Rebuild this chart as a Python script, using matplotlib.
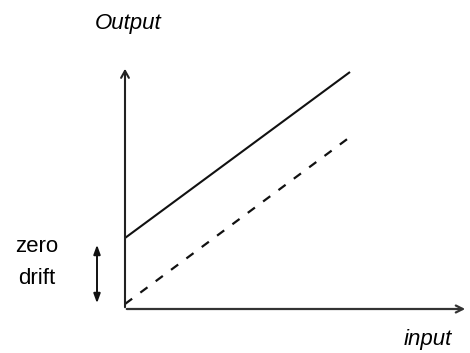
import matplotlib.pyplot as plt

# values (1 unit ~ 1 px, origin at the axes corner)
input_pts = [0, 225]
with_drift = [71, 237]
no_drift = [5, 172]
axis_x_end = 343
axis_y_end = 243
drift_range = [3, 67]

plt.rcParams['font.family'] = ['Liberation Sans', 'DejaVu Sans']

fig = plt.figure(figsize=(4.7, 3.53), dpi=100)
ax = fig.add_axes([125 / 470, 44 / 353, 345 / 470, 287 / 353])
ax.set_xlim(0, 345)
ax.set_ylim(0, 287)
ax.axis('off')

# axes with arrow heads
ax.annotate('', xy=(0, axis_y_end), xytext=(0, -1),
            arrowprops=dict(arrowstyle='->,head_length=0.5,head_width=0.28', lw=1.5, color='#222222'),
            annotation_clip=False)
ax.annotate('', xy=(axis_x_end, 0), xytext=(-1, 0),
            arrowprops=dict(arrowstyle='->,head_length=0.5,head_width=0.25', lw=1.6, color='#333333'),
            annotation_clip=False)

# output lines
ax.plot(input_pts, with_drift, color='#111111', lw=1.5, solid_capstyle='butt')
ax.plot(input_pts, no_drift, color='#111111', lw=1.6, dashes=(4, 4.6))

# zero drift double arrow
ax.annotate('', xy=(-28, drift_range[0]), xytext=(-28, drift_range[1]),
            arrowprops=dict(arrowstyle='<|-|>,head_length=0.55,head_width=0.2', lw=1.4, color='#111111'),
            annotation_clip=False)

ax.text(3, 286, 'Output', ha='center', va='center', fontsize=16, style='italic', clip_on=False)
ax.text(-88, 63, 'zero', ha='center', va='center', fontsize=16, clip_on=False)
ax.text(-88, 31, 'drift', ha='center', va='center', fontsize=16, clip_on=False)
ax.text(303, -31, 'input', ha='center', va='center', fontsize=16, style='italic', clip_on=False)

fig.savefig('out.png', dpi=100)
